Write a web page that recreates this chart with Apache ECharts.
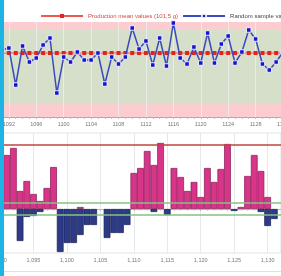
<!DOCTYPE html>
<html>
<head>
<meta charset="utf-8">
<script src="https://cdn.jsdelivr.net/npm/echarts@6/dist/echarts.min.js"></script>
<style>
html, body { margin: 0; padding: 0; background: #fff; }
#chart { width: 281px; height: 276px; }
</style>
</head>
<body>
<div id="chart"></div>
<script>
// 上图: 随机抽样重量 (g)
var sampleIds = [1091, 1092, 1093, 1094, 1095, 1096, 1097, 1098, 1099, 1100,
    1101, 1102, 1103, 1104, 1105, 1106, 1107, 1108, 1109, 1110,
    1111, 1112, 1113, 1114, 1115, 1116, 1117, 1118, 1119, 1120,
    1121, 1122, 1123, 1124, 1125, 1126, 1127, 1128, 1129, 1130,
    1131, 1132];
var sampleValues = [101.65, 101.75, 99.9, 101.85, 101.05, 101.25, 101.9, 102.25, 99.5, 101.3,
    101.05, 101.55, 101.15, 101.15, 101.5, 99.95, 101.3, 100.95, 101.3, 102.75,
    101.7, 102.1, 100.9, 102.25, 100.85, 103.0, 101.25, 100.95, 101.8, 101.0,
    102.5, 101.0, 101.95, 102.35, 101.0, 101.55, 102.65, 102.2, 100.95, 100.65,
    101.05, 101.55];
var meanValues = [101.5, 101.5, 101.5, 101.5, 101.5, 101.5, 101.5, 101.5, 101.5, 101.5,
    101.5, 101.5, 101.5, 101.5, 101.5, 101.5, 101.5, 101.5, 101.5, 101.5,
    101.5, 101.5, 101.5, 101.5, 101.5, 101.5, 101.5, 101.5, 101.5, 101.5,
    101.5, 101.5, 101.5, 101.5, 101.5, 101.5, 101.5, 101.5, 101.5, 101.5,
    101.5, 101.5];
var upperLimit = 102.65, lowerLimit = 99.0;
var topMin = 98.3, topMax = 103.05;

// 下图: CUSUM 正负累计
var cusumIds = [1091, 1092, 1093, 1094, 1095, 1096, 1097, 1098, 1099, 1100,
    1101, 1102, 1103, 1104, 1105, 1106, 1107, 1108, 1109, 1110,
    1111, 1112, 1113, 1114, 1115, 1116, 1117, 1118, 1119, 1120,
    1121, 1122, 1123, 1124, 1125, 1126, 1127, 1128, 1129, 1130,
    1131];
var cusumHigh = [2.7, 3.05, 0.9, 1.4, 0.75, 0.4, 1.05, 2.1, 0, 0,
    0, 0.1, 0, 0, 0, 0, 0, 0, 0, 1.8,
    2.05, 2.9, 2.2, 3.3, 0, 2.05, 1.6, 0.9, 1.35, 0.6,
    2.05, 1.35, 2.0, 3.25, 0, 0.1, 1.65, 2.7, 1.9, 0.6,
    0];
var cusumLow = [0, 0, -1.6, -0.4, -0.35, -0.15, 0, 0, -2.15, -1.7,
    -1.7, -1.3, -0.8, -0.8, 0, -1.45, -1.2, -1.2, -0.8, 0,
    0, 0, -0.15, 0, -0.3, 0, 0, 0, 0, 0,
    0, 0, 0, 0, -0.1, 0, 0, 0, -0.15, -0.85,
    -0.5];
var decisionLimit = 3.2, slackLimit = 0.3;

var FONT = 'Liberation Sans';

function pairs(ids, vals) {
    return ids.map(function (id, i) {
        return [id, vals[i] === 0 ? '-' : vals[i]];
    });
}
function labelEvery4(i, v) {
    return (Number(v) - 1092) % 4 === 0;
}

var myChart = echarts.init(document.getElementById('chart'));
var option = {
    animation: false,
    textStyle: { fontFamily: FONT },
    graphic: [
        { type: 'rect', left: 0, top: 0, z: 100, shape: { width: 4, height: 276 }, style: { fill: '#1db3e5' } },
        { type: 'line', z: 0, shape: { x1: 0, y1: 271.5, x2: 281, y2: 271.5 }, style: { stroke: '#d9e6d9', lineWidth: 1 } }
    ],
    legend: {
        orient: 'horizontal',
        left: 35,
        top: 8,
        width: 500,
        itemWidth: 42,
        itemHeight: 5,
        itemGap: 4,
        textStyle: { fontSize: 6, color: '#555', fontFamily: FONT },
        data: [
            { name: 'Production mean values (101,5 g)', textStyle: { color: '#d9463e' } },
            { name: 'Random sample values', textStyle: { color: '#444' } }
        ]
    },
    grid: [
        { left: 2, right: -2, top: 22, bottom: 159, outerBoundsMode: 'none' },
        { left: 0, right: 0, top: 133, bottom: 23, outerBoundsMode: 'none', show: true, borderColor: '#e3e3e3', borderWidth: 1 }
    ],
    xAxis: [{
        gridIndex: 0,
        type: 'category',
        data: sampleIds,
        boundaryGap: false,
        z: 2,
        axisLine: { lineStyle: { color: '#aaa', width: 1 } },
        axisTick: { interval: 0, length: 2, lineStyle: { color: '#bbb' } },
        axisLabel: { interval: labelEvery4, fontSize: 5.5, color: '#777', margin: 4 },
        splitLine: { show: true, interval: labelEvery4, lineStyle: { color: 'rgba(236,238,234,0.9)' } }
    }, {
        gridIndex: 1,
        type: 'value',
        min: 1090,
        max: 1132,
        interval: 5,
        axisLine: { lineStyle: { color: '#bbb' } },
        axisTick: { length: 2, lineStyle: { color: '#bbb' } },
        minorTick: { show: true, splitNumber: 5, length: 2, lineStyle: { color: '#ccc' } },
        axisLabel: {
            fontSize: 5.5, color: '#777', margin: 4,
            formatter: function (v) { return String(v).replace(/\B(?=(\d{3})+$)/, ','); }
        },
        splitLine: { show: true, lineStyle: { color: '#e4e9f0' } }
    }],
    yAxis: [
        { gridIndex: 0, type: 'value', min: topMin, max: topMax, show: false },
        { gridIndex: 1, type: 'value', min: -2.2, max: 3.8, show: false }
    ],
    series: [{
        // 背景带
        type: 'line',
        xAxisIndex: 0,
        yAxisIndex: 0,
        data: [],
        z: 1,
        markArea: {
            silent: true,
            data: [
                [{ yAxis: upperLimit, itemStyle: { color: '#fbcdd0' } }, { yAxis: topMax }],
                [{ yAxis: lowerLimit, itemStyle: { color: '#d5dfc9' } }, { yAxis: upperLimit }],
                [{ yAxis: topMin, itemStyle: { color: '#fbcdd0' } }, { yAxis: lowerLimit }]
            ]
        }
    }, {
        name: 'Production mean values (101,5 g)',
        type: 'line',
        xAxisIndex: 0,
        yAxisIndex: 0,
        data: meanValues,
        symbol: 'rect',
        symbolSize: 4,
        showAllSymbol: true,
        z: 3,
        itemStyle: { color: '#e3241d' },
        lineStyle: { color: '#ec5a50', width: 1 }
    }, {
        name: 'Random sample values',
        type: 'line',
        xAxisIndex: 0,
        yAxisIndex: 0,
        data: sampleValues,
        symbol: 'rect',
        symbolSize: 4.5,
        showAllSymbol: true,
        z: 4,
        itemStyle: { color: '#1414d2', borderColor: 'rgba(255,255,255,0.85)', borderWidth: 1 },
        lineStyle: { color: '#3a4abf', width: 1.5 }
    }, {
        // 控制线
        type: 'line',
        xAxisIndex: 1,
        yAxisIndex: 1,
        data: [],
        z: 1,
        markLine: {
            silent: true,
            symbol: 'none',
            label: { show: false },
            data: [
                { yAxis: decisionLimit, lineStyle: { color: '#c0443c', width: 1.5, type: 'solid' } },
                { yAxis: slackLimit, lineStyle: { color: '#86c283', width: 1.5, type: 'solid' } },
                { yAxis: -slackLimit, lineStyle: { color: '#86c283', width: 1.5, type: 'solid' } }
            ]
        }
    }, {
        type: 'bar',
        xAxisIndex: 1,
        yAxisIndex: 1,
        data: pairs(cusumIds, cusumHigh),
        barWidth: 6.7,
        barGap: '-100%',
        z: 3,
        itemStyle: { color: '#d8358a', borderColor: '#86194f', borderWidth: 0.7 }
    }, {
        type: 'bar',
        xAxisIndex: 1,
        yAxisIndex: 1,
        data: pairs(cusumIds, cusumLow),
        barWidth: 6.7,
        barGap: '-100%',
        z: 3,
        itemStyle: { color: '#2d3a88', borderColor: '#161d52', borderWidth: 0.7 }
    }]
};
myChart.setOption(option);
</script>
</body>
</html>
